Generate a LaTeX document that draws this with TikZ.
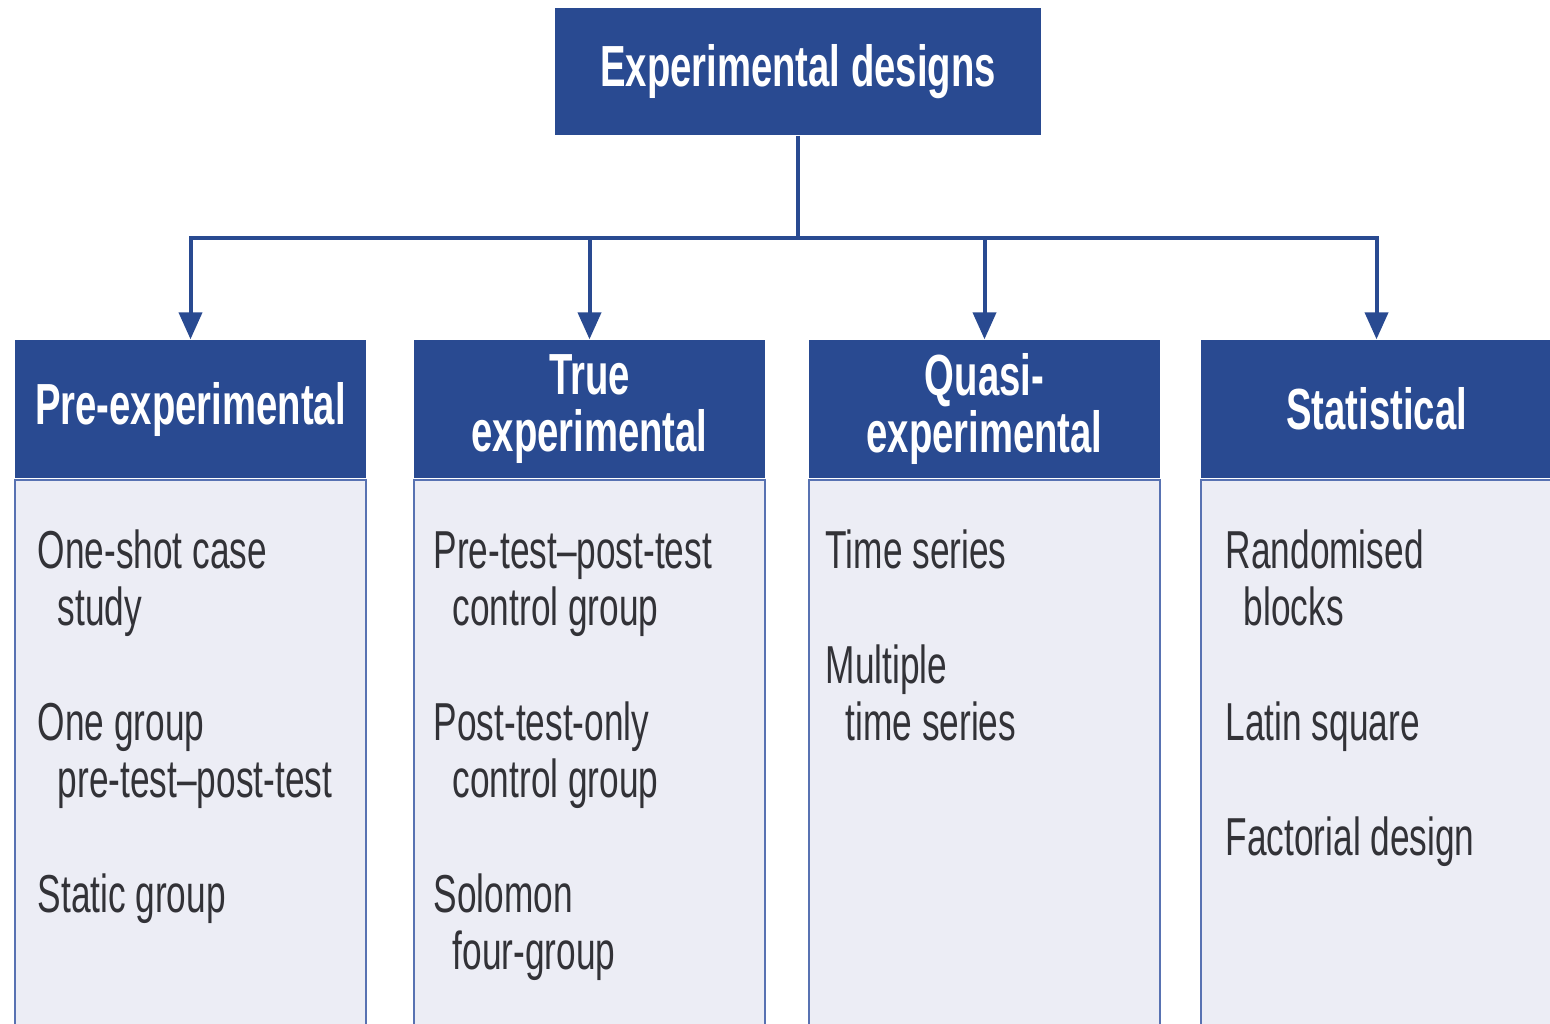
\documentclass[tikz,border=0pt]{standalone}
\usepackage{fontspec}
\setmainfont{Liberation Sans}[FakeStretch=0.66]
\usetikzlibrary{arrows.meta, positioning}
\definecolor{designblue}{RGB}{41,74,145}
\definecolor{panelfill}{RGB}{236,237,245}
\definecolor{panelline}{RGB}{88,114,178}
\definecolor{itemtext}{RGB}{50,50,55}
\tikzset{
    head/.style = {rectangle, fill=designblue, text=white, align=center, inner sep=0pt,
                   minimum width=35.1mm, minimum height=13.8mm,
                   font=\fontsize{16.5}{16.2}\selectfont\bfseries},
    panel/.style = {rectangle, fill=panelfill, draw=panelline, line width=0.2mm, inner sep=0pt,
                    minimum width=35.1mm, minimum height=56.5mm},
    % base west sits on the last line of an item
    item/.style = {anchor=base west, align=left, inner sep=0pt, text=itemtext,
                   font=\fontsize{15.2}{16.2}\selectfont},
    flow/.style = {draw=designblue, line width=0.4mm, -{Triangle[width=2.3mm, length=2.7mm]}}
}

\begin{document}
\begin{tikzpicture}[x={(0.1mm,0)}, y={(0,-0.1mm)}]
\useasboundingbox (0,0) rectangle (1550,1023);

% Root
\node[head, minimum width=48.6mm, minimum height=12.7mm] (top) at (798,71.5) {Experimental designs};

% Category headers
\node[head] (h1) at (190.5,409) {Pre-experimental};
\node[head] (h2) at (589.5,409) {True\\experimental};
\node[head] (h3) at (984.5,409) {Quasi-\\experimental};
\node[head] (h4) at (1376.5,409) {Statistical};

% Panels under the headers
\node[panel, below=0pt of h1] (p1) {};
\node[panel, below=0pt of h2] (p2) {};
\node[panel, below=0pt of h3] (p3) {};
\node[panel, below=0pt of h4] (p4) {};

% Root -> headers
\coordinate (bus) at (798,238);
\draw[designblue, line width=0.4mm] (top.south) -- (bus);
\foreach \h in {h1,h2,h3,h4}
    \draw[flow] (bus) -| (\h.north);

% Pre-experimental
\node[item] (pre1) at ([xshift=2.3mm, yshift=-14.7mm]p1.north west) {One-shot case\\\hspace*{2mm}study};
\node[item] (pre2) at ([xshift=2.3mm, yshift=-31.9mm]p1.north west) {One group\\\hspace*{2mm}pre-test--post-test};
\node[item] (pre3) at ([xshift=2.3mm, yshift=-43.4mm]p1.north west) {Static group};

% True experimental
\node[item] (true1) at ([xshift=2mm, yshift=-14.7mm]p2.north west) {Pre-test--post-test\\\hspace*{1.9mm}control group};
\node[item] (true2) at ([xshift=2mm, yshift=-31.9mm]p2.north west) {Post-test-only\\\hspace*{1.9mm}control group};
\node[item] (true3) at ([xshift=2mm, yshift=-49.1mm]p2.north west) {Solomon\\\hspace*{1.9mm}four-group};

% Quasi-experimental
\node[item] (quasi1) at ([xshift=1.7mm, yshift=-9mm]p3.north west) {Time series};
\node[item] (quasi2) at ([xshift=1.7mm, yshift=-26.2mm]p3.north west) {Multiple\\\hspace*{2mm}time series};

% Statistical
\node[item] (stat1) at ([xshift=2.5mm, yshift=-14.7mm]p4.north west) {Randomised\\\hspace*{1.8mm}blocks};
\node[item] (stat2) at ([xshift=2.5mm, yshift=-26.2mm]p4.north west) {Latin square};
\node[item] (stat3) at ([xshift=2.5mm, yshift=-37.7mm]p4.north west) {Factorial design};
\end{tikzpicture}
\end{document}
